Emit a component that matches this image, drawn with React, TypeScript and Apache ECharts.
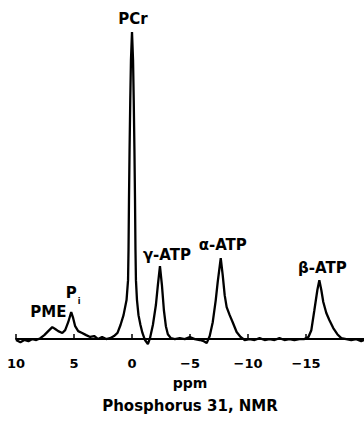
import React, { useEffect, useRef } from "react";
import * as echarts from "echarts";

// 31P NMR spectrum: chemical shift (ppm) and signal (a.u., PCr peak = 100)
const shiftPpm = [
  10.0, 9.62, 9.28, 8.93, 8.59, 8.25, 7.9, 7.56, 7.22, 6.87, 6.62, 6.36, 6.01, 5.76, 5.5, 5.24,
  5.07, 4.9, 4.64, 4.3, 3.95, 3.61, 3.26, 2.92, 2.58, 2.23, 1.89, 1.55, 1.25, 0.99, 0.73, 0.47,
  0.34, 0.3, 0.26, 0.21, 0.15, 0.09, 0, -0.09, -0.15, -0.21, -0.26, -0.3, -0.34, -0.43, -0.56,
  -0.73, -0.9, -1.12, -1.37, -1.55, -1.8, -2.06, -2.23, -2.41, -2.58, -2.75, -2.92, -3.09,
  -3.35, -3.69, -4.12, -4.55, -4.98, -5.41, -5.84, -6.19, -6.44, -6.7, -6.96, -7.22, -7.39,
  -7.65, -7.82, -7.99, -8.16, -8.42, -8.68, -9.02, -9.36, -9.71, -10.14, -10.57, -11.0, -11.43,
  -11.86, -12.29, -12.71, -13.14, -13.57, -14.0, -14.43, -14.86, -15.21, -15.46, -15.72,
  -15.98, -16.15, -16.32, -16.49, -16.75, -17.01, -17.35, -17.7, -18.04, -18.47, -18.9,
  -19.33, -19.76, -20.0,
];
const signal = [
  -0.3, -1.0, -0.3, -0.7, 0, -0.3, 0.3, 1.3, 2.6, 3.9, 3.3, 2.6, 2.0, 2.9, 5.5, 8.8,
  6.8, 4.2, 2.6, 2.0, 1.3, 0.7, 1.0, 0, 0.7, 0, 0.3, 1.0, 2.0, 4.6, 7.8, 12.7,
  19.2, 29.0, 45.3, 61.6, 77.8, 90.9, 100, 90.9, 77.8, 61.6, 45.3, 29.0, 19.2, 12.7, 7.8,
  4.6, 2.0, -0.3, -1.6, 0.3, 4.6, 11.1, 17.6, 23.8, 17.6, 9.4, 4.2, 1.6,
  0.3, 0, 0.3, 0, 0.7, 0, -0.3, -0.7, -1.3, 1.0, 5.5, 12.7, 18.6,
  26.4, 20.8, 14.3, 10.4, 7.8, 5.5, 2.3, 0.7, -0.3, 0, -0.3, 0.3, -0.3,
  0, -0.3, 0.3, -0.3, 0, -0.3, 0, 0, 0.7, 2.9, 9.4,
  16.0, 19.2, 16.0, 12.1, 8.5, 6.2, 3.6, 1.6, 0.3, 0, -0.3,
  0, -0.7, -0.3,
];

// Assigned resonances and their shifts
const peakNames = ["PCr", "PME", "P", "i", "γ-ATP", "α-ATP", "β-ATP"];
const peakPpm = [0, 6.87, 5.24, 5.24, -2.41, -7.65, -16.15];

// Axis ticks
const tickValues = [10, 5, 0, -5, -10, -15];

// Label placement relative to each peak top (px)
const labelOffsets: number[][] = [
  [1, -13],
  [-4, -15],
  [0, -19],
  [8, -11],
  [7, -11],
  [2, -13],
  [3, -12],
];
const labelSizes = [15, 15, 15, 8, 15, 15, 15];

const FONT = "'DejaVu Sans', 'Liberation Sans', sans-serif";

export default function App() {
  const ref = useRef<HTMLDivElement>(null);

  useEffect(() => {
    if (!ref.current) return;
    const chart = echarts.init(ref.current, undefined, { renderer: "svg" });

    const data = shiftPpm.map((x, i) => [x, signal[i]]);
    const markData = peakNames.map((name, k) => {
      const idx = shiftPpm.indexOf(peakPpm[k]);
      return {
        name,
        coord: [peakPpm[k], signal[idx]],
        label: {
          offset: labelOffsets[k],
          fontSize: labelSizes[k],
        },
      };
    });

    const fmtTick = (v: number) => {
      if (v === -20) return "";
      return v < 0 ? "\u2212" + Math.abs(v) : String(v);
    };

    chart.setOption({
      animation: false,
      backgroundColor: "#ffffff",
      grid: { left: 16, right: 0, top: 32, bottom: 79 },
      xAxis: {
        type: "value",
        inverse: true,
        min: -20,
        max: 10,
        interval: 5,
        name: "ppm",
        nameLocation: "middle",
        nameGap: 24,
        nameTextStyle: {
          fontFamily: FONT,
          fontWeight: "bold",
          fontSize: 14,
          color: "#000",
        },
        axisLine: { lineStyle: { color: "#000", width: 2 } },
        axisTick: {
          inside: true,
          length: 5,
          lineStyle: { color: "#000", width: 1.5 },
          customValues: tickValues,
        },
        axisLabel: {
          customValues: tickValues,
          formatter: fmtTick,
          margin: 5,
          fontFamily: FONT,
          fontWeight: "bold",
          fontSize: 13,
          color: "#000",
        },
        splitLine: { show: false },
      },
      yAxis: {
        type: "value",
        show: false,
        min: -4.2,
        max: 100,
        splitLine: { show: false },
      },
      series: [
        {
          type: "line",
          data,
          showSymbol: false,
          symbol: "none",
          smooth: false,
          lineStyle: { color: "#000", width: 2.3 },
          clip: false,
          markPoint: {
            symbol: "circle",
            symbolSize: 0,
            silent: true,
            label: {
              show: true,
              position: "inside",
              formatter: "{b}",
              fontFamily: FONT,
              fontWeight: "bold",
              color: "#000",
            },
            data: markData,
          },
        },
      ],
      graphic: [
        {
          type: "text",
          x: 190,
          y: 406,
          style: {
            text: "Phosphorus 31, NMR",
            textAlign: "center",
            textVerticalAlign: "middle",
            font: `bold 15px ${FONT}`,
            fill: "#000",
          },
        },
      ],
    });

    return () => chart.dispose();
  }, []);

  return (
    <div
      ref={ref}
      style={{ position: "absolute", left: 0, top: 0, width: 364, height: 431 }}
    />
  );
}
